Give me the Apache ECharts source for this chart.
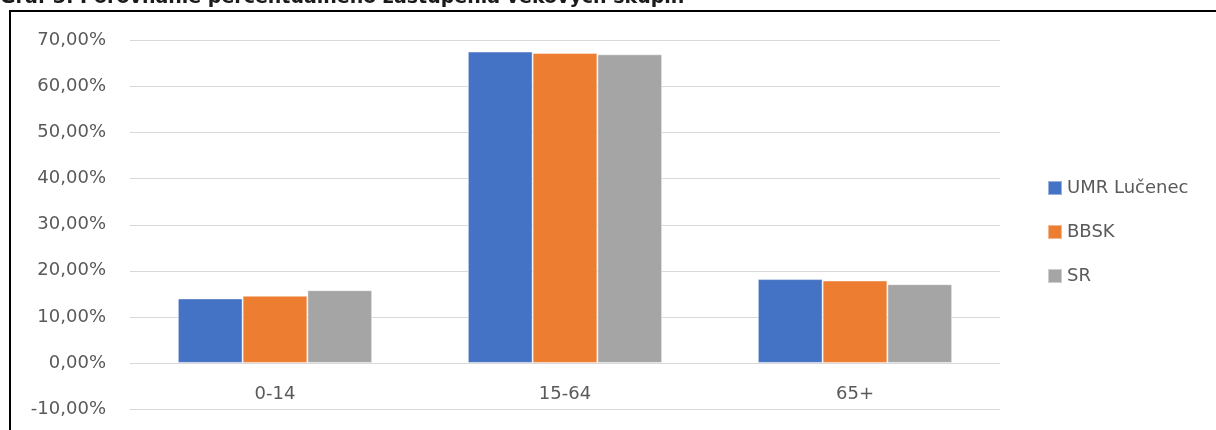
<!DOCTYPE html>
<html>
<head>
<meta charset="utf-8">
<script src="https://cdn.jsdelivr.net/npm/echarts@6/dist/echarts.min.js"></script>
<style>
html,body{margin:0;padding:0;background:#fff;}
#c{width:1216px;height:430px;}
</style>
</head>
<body>
<div id="c"></div>
<script>
var categories = ['0-14', '15-64', '65+'];
var seriesNames = ['UMR Lučenec', 'BBSK', 'SR'];
var umr = [14.0, 67.6, 18.2];
var bbsk = [14.6, 67.3, 17.9];
var sr = [15.8, 67.0, 17.1];
var yTicks = [-10, 0, 10, 20, 30, 40, 50, 60, 70];
var titleText = 'Graf 3: Porovnanie percentuálneho zastúpenia vekových skupín';

var colors = ['#4472C4', '#ED7D31', '#A5A5A5'];
var font = 'DejaVu Sans';
var chart = echarts.init(document.getElementById('c'));
var values = [umr, bbsk, sr];
chart.setOption({
  animation: false,
  color: colors,
  textStyle: {fontFamily: font},
  grid: {left: 130, right: 216, top: 40.5, bottom: 21, containLabel: false, outerBoundsMode: 'none'},
  legend: {
    orient: 'vertical',
    left: 1042,
    top: 174,
    itemWidth: 14,
    itemHeight: 14,
    itemGap: 26,
    icon: 'rect',
    textStyle: {fontFamily: font, fontSize: 18, color: '#595959'},
    data: seriesNames
  },
  xAxis: {
    type: 'category',
    data: categories,
    axisLine: {show: false, onZero: false},
    axisTick: {show: false},
    axisLabel: {fontFamily: font, fontSize: 18, color: '#595959', margin: -24, verticalAlign: 'top'}
  },
  yAxis: {
    type: 'value',
    min: yTicks[0],
    max: yTicks[yTicks.length - 1],
    interval: 10,
    axisLine: {show: false},
    axisTick: {show: false},
    splitLine: {lineStyle: {color: '#D9D9D9', width: 1}},
    axisLabel: {
      fontFamily: font, fontSize: 18, color: '#595959', margin: 24,
      formatter: function (v) { return v.toFixed(2).replace('.', ',') + '%'; }
    }
  },
  graphic: [
    {type: 'text', left: 0, top: -11, style: {text: titleText, font: 'bold 19px "DejaVu Sans"', fill: '#1a1a1a'}},
    {type: 'line', shape: {x1: 9, y1: 11, x2: 1216, y2: 11}, style: {stroke: '#000', lineWidth: 2}},
    {type: 'line', shape: {x1: 10, y1: 10, x2: 10, y2: 430}, style: {stroke: '#000', lineWidth: 2}}
  ],
  series: seriesNames.map(function (n, i) {
    return {
      name: n,
      type: 'bar',
      data: values[i],
      barGap: '0%',
      barCategoryGap: '33%',
      itemStyle: {borderColor: 'rgba(255,255,255,0.45)', borderWidth: 1}
    };
  })
});
</script>
</body>
</html>
